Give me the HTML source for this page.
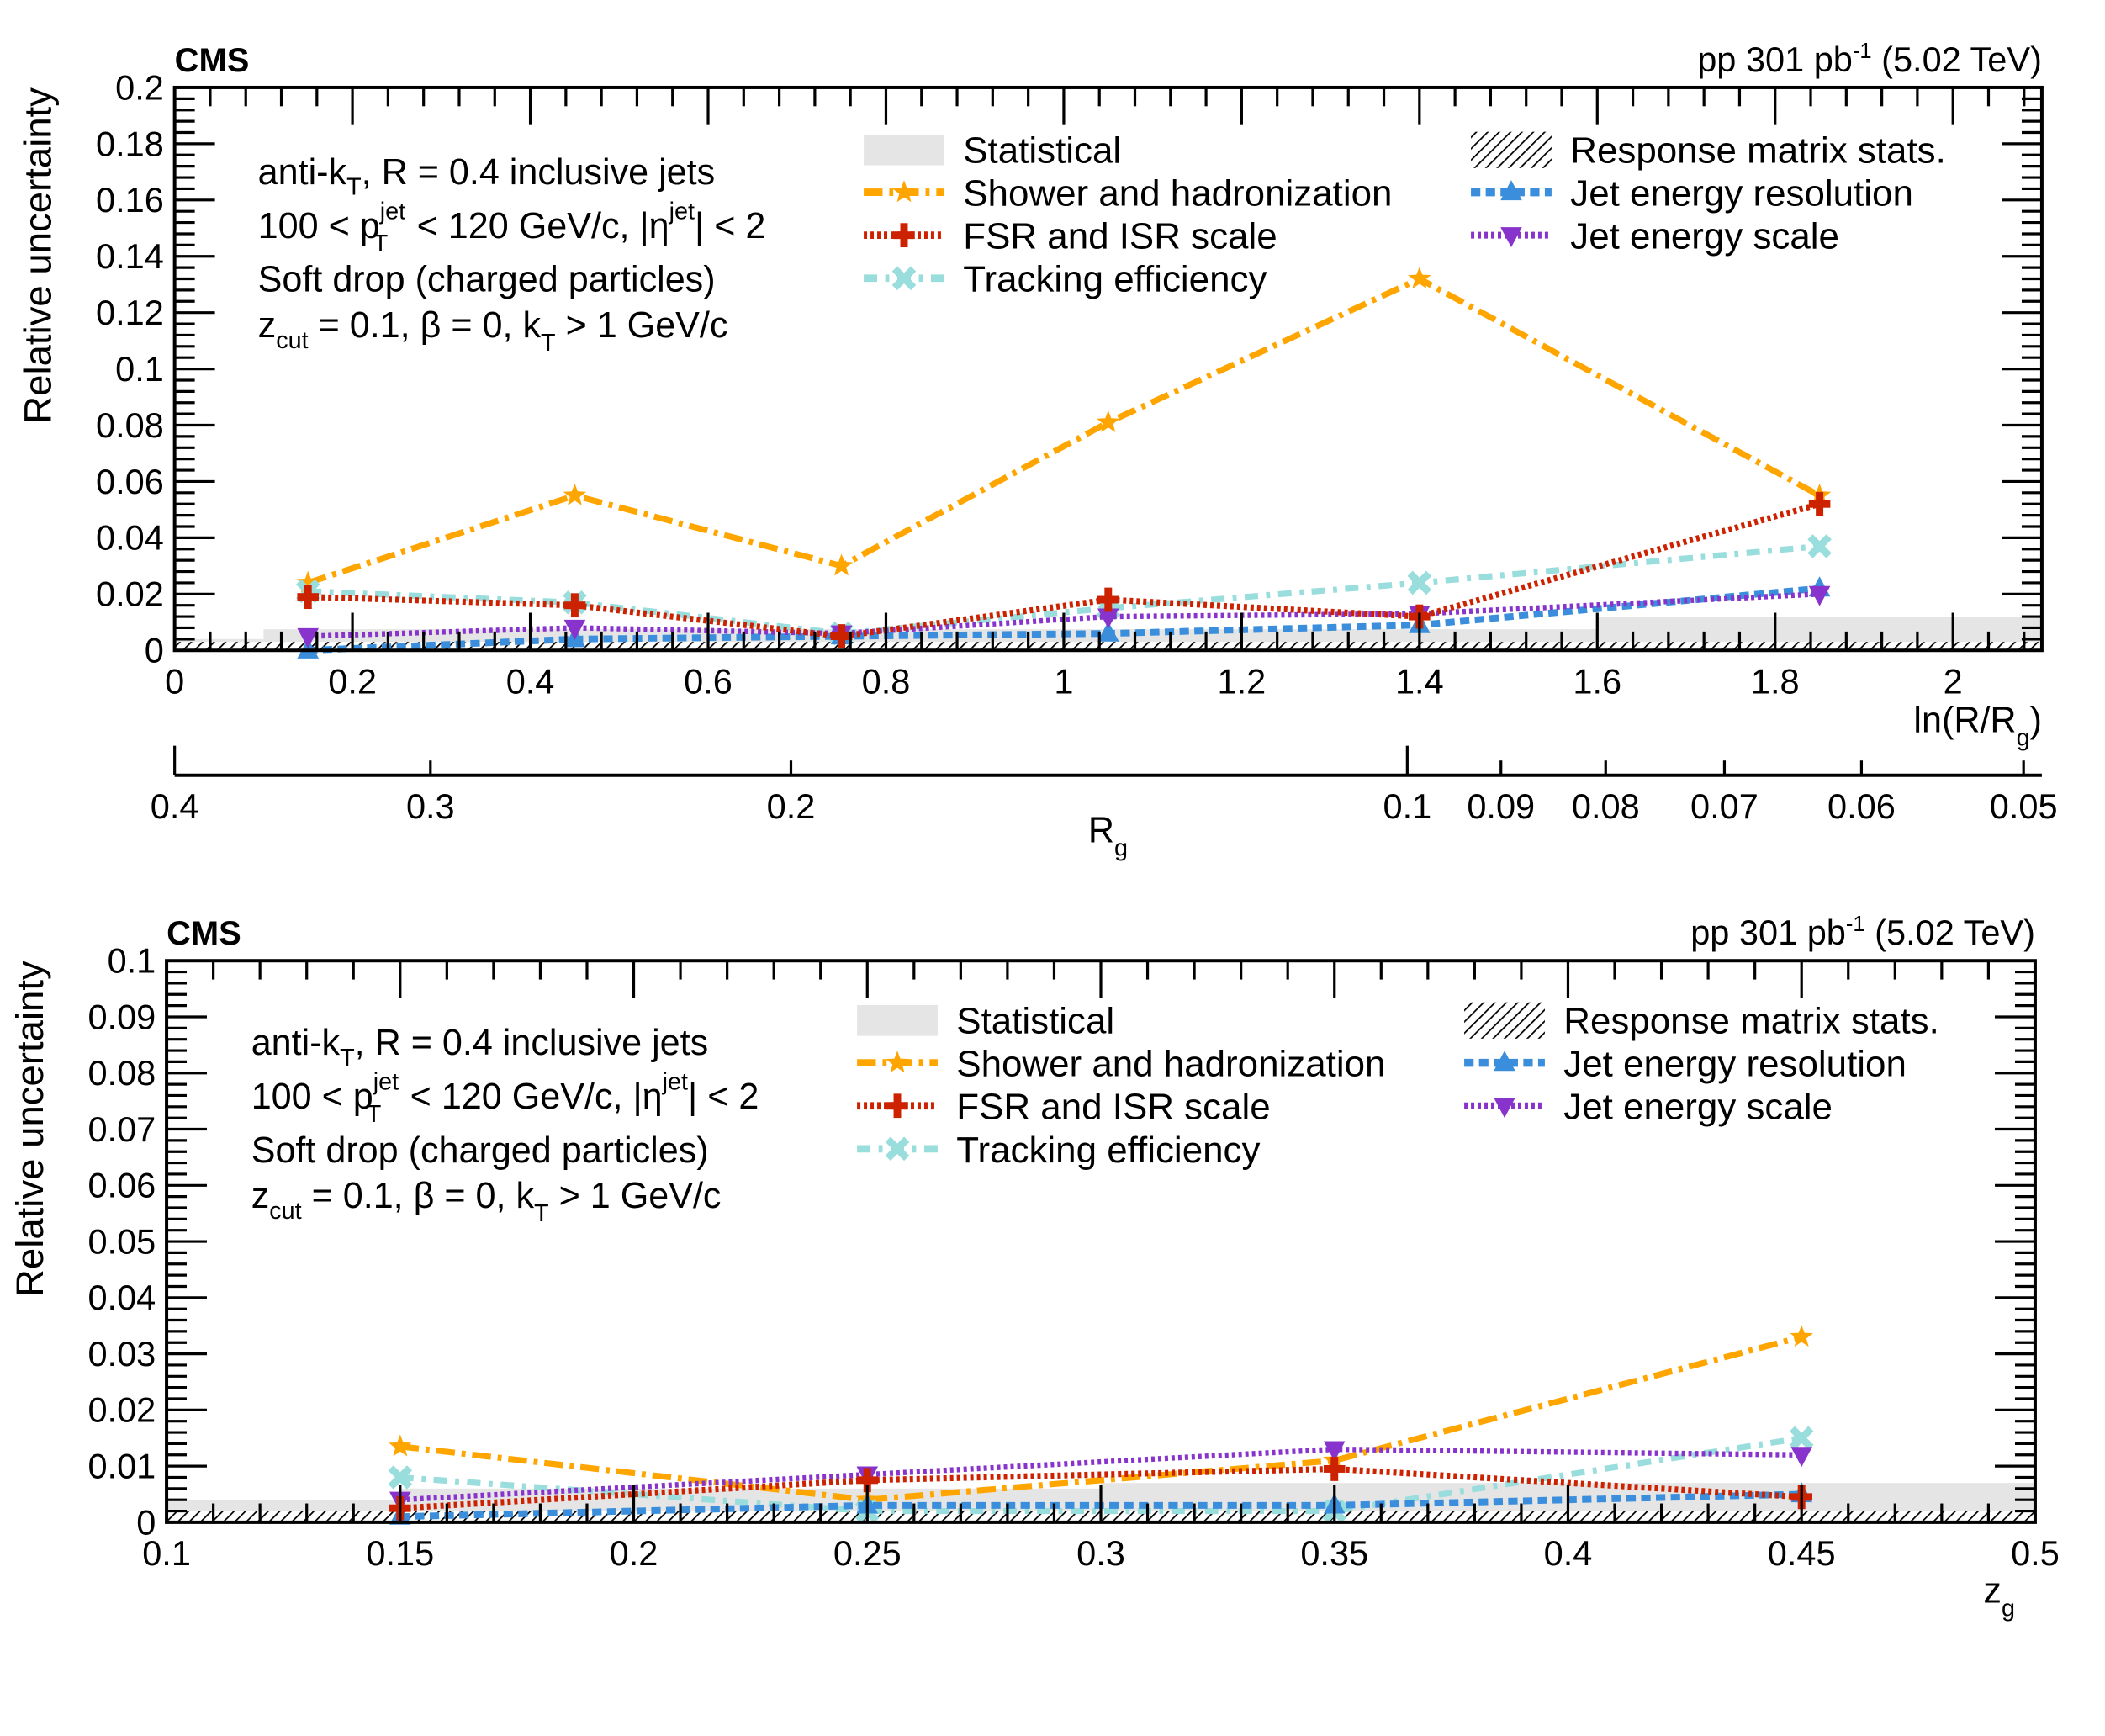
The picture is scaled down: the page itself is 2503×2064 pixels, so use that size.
<!DOCTYPE html>
<html><head><meta charset="utf-8"><style>
html,body{margin:0;padding:0;background:#fff}
svg{display:block}
text{font-family:"Liberation Sans",sans-serif;fill:#000}
</style></head><body>
<svg id="c" width="2503" height="2064" viewBox="0 0 1567 1292" xmlns="http://www.w3.org/2000/svg">
<defs>
<pattern id="hatch" patternUnits="userSpaceOnUse" width="6" height="6" patternTransform="rotate(45)">
<rect width="6" height="6" fill="#fff"/><line x1="0" y1="0" x2="0" y2="6" stroke="#000" stroke-width="2.2"/></pattern>
</defs>
</svg>
<script>
// ---------- data: top panel (ln(R/Rg)) ----------
const topX = [0.15, 0.45, 0.75, 1.05, 1.4, 1.85];
const topShower = [0.024, 0.055, 0.030, 0.081, 0.132, 0.055];
const topFSR = [0.019, 0.016, 0.005, 0.018, 0.012, 0.052];
const topTrack = [0.021, 0.017, 0.006, 0.015, 0.024, 0.037];
const topJER = [0.000, 0.004, 0.005, 0.006, 0.009, 0.022];
const topJES = [0.005, 0.008, 0.006, 0.012, 0.013, 0.020];
const topStatEdges = [0, 0.1, 1.6, 2.1];
const topStatVals = [0.004, 0.0075, 0.012];
const topRespVal = 0.003;
const topYTicks = [0, 0.02, 0.04, 0.06, 0.08, 0.1, 0.12, 0.14, 0.16, 0.18, 0.2];
const topXTicks = [0, 0.2, 0.4, 0.6, 0.8, 1, 1.2, 1.4, 1.6, 1.8, 2];
const rgTicks = [0.4, 0.3, 0.2, 0.1, 0.09, 0.08, 0.07, 0.06, 0.05];
// ---------- data: bottom panel (z_g) ----------
const botX = [0.15, 0.25, 0.35, 0.45];
const botShower = [0.0135, 0.004, 0.011, 0.033];
const botFSR = [0.0025, 0.0075, 0.0095, 0.0045];
const botTrack = [0.008, 0.002, 0.002, 0.015];
const botJER = [0.001, 0.003, 0.003, 0.005];
const botJES = [0.004, 0.0085, 0.013, 0.012];
const botStatEdges = [0.1, 0.15, 0.3, 0.5];
const botStatVals = [0.004, 0.006, 0.007];
const botRespVal = 0.002;
const botYTicks = [0, 0.01, 0.02, 0.03, 0.04, 0.05, 0.06, 0.07, 0.08, 0.09, 0.1];
const botXTicks = [0.1, 0.15, 0.2, 0.25, 0.3, 0.35, 0.4, 0.45, 0.5];

const NS = "http://www.w3.org/2000/svg";
const svgRoot = document.getElementById('c');
function mk(tag, attrs, parent, txt) {
  const e = document.createElementNS(NS, tag);
  for (const k in attrs) e.setAttribute(k, attrs[k]);
  if (txt !== undefined) e.textContent = txt;
  (parent || svgRoot).appendChild(e);
  return e;
}
const styles = {
  shower: {c:'#FFA500', d:'14 5 3 5', w:4.5, m:'star'},
  fsr: {c:'#CC2200', d:'2.5 2.5', w:4.5, m:'plus'},
  track: {c:'#99DDDD', d:'10 6 3 6', w:4.5, m:'x'},
  jer: {c:'#3A8EDB', d:'7 4', w:5, m:'tri'},
  jes: {c:'#8833CC', d:'2.5 2.5', w:4, m:'tridown'}
};
function marker(g, type, x, y, col) {
  const s = 9;
  if (type === 'star') {
    let p = [];
    for (let i = 0; i < 10; i++) { const r = i % 2 ? s*0.42 : s; const a = -Math.PI/2 + i*Math.PI/5; p.push((x + r*Math.cos(a)).toFixed(1) + ',' + (y + r*Math.sin(a)).toFixed(1)); }
    mk('polygon', {points:p.join(' '), fill:col}, g);
  } else if (type === 'plus') {
    mk('rect', {x:x-8, y:y-2.8, width:16, height:5.6, fill:col}, g);
    mk('rect', {x:x-2.8, y:y-9, width:5.6, height:18, fill:col}, g);
  } else if (type === 'x') {
    mk('path', {d:`M${x-7},${y-7}L${x+7},${y+7}M${x+7},${y-7}L${x-7},${y+7}`, stroke:col, 'stroke-width':5.5}, g);
  } else if (type === 'tri') {
    mk('polygon', {points:`${x},${y-9} ${x+8},${y+6} ${x-8},${y+6}`, fill:col}, g);
  } else {
    mk('polygon', {points:`${x},${y+9} ${x+8},${y-6} ${x-8},${y-6}`, fill:col}, g);
  }
}
function panel(o) {
  const g = mk('g', {});
  
  
  const X = v => o.L + (v - o.x0) / (o.x1 - o.x0) * (o.R - o.L);
  const Y = v => o.B - (v - o.y0) / (o.y1 - o.y0) * (o.B - o.T);
  for (let i = 0; i < o.statVals.length; i++) {
    const r = mk('rect', {x:X(o.statEdges[i]), y:Y(o.statVals[i]), width:X(o.statEdges[i+1]) - X(o.statEdges[i]), height:o.B - Y(o.statVals[i]), fill:'#E5E5E5'}, g);
    
    
  }
  const h = mk('rect', {x:o.L, y:Y(o.resp), width:o.R - o.L, height:o.B - Y(o.resp), fill:'url(#hatch)'}, g);
  
  
  for (const [key, vals] of o.series) {
    const st = styles[key];
    const sg = mk('g', {}, g);
    
    
    mk('polyline', {points:o.xs.map((x, i) => X(x) + ',' + Y(vals[i])).join(' '), fill:'none', stroke:st.c, 'stroke-width':st.w, 'stroke-dasharray':st.d}, sg);
    o.xs.forEach((x, i) => marker(sg, st.m, X(x), Y(vals[i]), st.c));
  }
  mk('rect', {x:o.L, y:o.T, width:o.R - o.L, height:o.B - o.T, fill:'none', stroke:'#000', 'stroke-width':2.5}, g);
  const yt = o.yTicks;
  const ystep = (yt[1] - yt[0]) / 5;
  for (let v = o.y0; v <= o.y1 + 1e-9; v += ystep) {
    const q = (v - o.y0) / (yt[1] - yt[0]);
    const maj = Math.abs(q - Math.round(q)) < 1e-6;
    const len = maj ? 30 : 15;
    mk('line', {x1:o.L, x2:o.L + len, y1:Y(v), y2:Y(v), stroke:'#000', 'stroke-width':2}, g);
    mk('line', {x1:o.R, x2:o.R - len, y1:Y(v), y2:Y(v), stroke:'#000', 'stroke-width':2}, g);
  }
  yt.forEach(v => {
    const t = mk('text', {x:o.L - 8, y:Y(v) + 9, 'text-anchor':'end', 'font-size':26}, g, String(v));
    
    
  });
  const xt = o.xTicks;
  const xstep = (xt[1] - xt[0]) / 5;
  for (let v = o.x0; v <= o.x1 + 1e-9; v += xstep) {
    const q = (v - xt[0]) / (xt[1] - xt[0]);
    const maj = Math.abs(q - Math.round(q)) < 1e-6;
    const len = maj ? 28 : 14;
    mk('line', {x1:X(v), x2:X(v), y1:o.B, y2:o.B - len, stroke:'#000', 'stroke-width':2}, g);
    mk('line', {x1:X(v), x2:X(v), y1:o.T, y2:o.T + len, stroke:'#000', 'stroke-width':2}, g);
  }
  xt.forEach(v => {
    const t = mk('text', {x:X(v), y:o.B + 32, 'text-anchor':'middle', 'font-size':26}, g, String(v));
    
    
  });
  const cms = mk('text', {x:o.L, y:o.T - 12, 'font-size':25, 'font-weight':'bold'}, g, 'CMS');
  
  
  const lum = mk('text', {x:o.R, y:o.T - 12, 'text-anchor':'end', 'font-size':26}, g);
  
  
  lum.innerHTML = 'pp 301 pb<tspan dy="-10" font-size="16">-1</tspan><tspan dy="10"> (5.02 TeV)</tspan>';
  const yl = mk('text', {x:0, y:0, 'text-anchor':'end', 'font-size':28.5, transform:`translate(${o.L - 92},${o.T}) rotate(-90)`}, g, 'Relative uncertainty');
  
  
  const ix = o.infoX, iy = o.infoY;
  const info = mk('g', {}, g);
  
  
  mk('text', {x:ix, y:iy, 'font-size':27}, info).innerHTML = 'anti-k<tspan dy="8" font-size="18">T</tspan><tspan dy="-8">, R = 0.4 inclusive jets</tspan>';
  mk('text', {x:ix, y:iy + 40, 'font-size':27}, info).innerHTML = '100 &lt; p<tspan dy="-14" font-size="18">jet</tspan><tspan dx="-24" dy="24" font-size="18">T</tspan><tspan dx="14" dy="-10"> &lt; 120 GeV/c, |η</tspan><tspan dy="-14" font-size="18">jet</tspan><tspan dy="14">| &lt; 2</tspan>';
  mk('text', {x:ix, y:iy + 80, 'font-size':27}, info, 'Soft drop (charged particles)');
  mk('text', {x:ix, y:iy + 114, 'font-size':27}, info).innerHTML = 'z<tspan dy="8" font-size="18">cut</tspan><tspan dy="-8"> = 0.1, β = 0, k</tspan><tspan dy="10" font-size="18">T</tspan><tspan dy="-10"> &gt; 1 GeV/c</tspan>';
  const lg = mk('g', {}, g);
  
  
  const lx = o.legX, ly = o.legY;
  const ent = [
    [lx, ly, 'stat', 'Statistical'], [lx, ly + 32, 'shower', 'Shower and hadronization'],
    [lx, ly + 64, 'fsr', 'FSR and ISR scale'], [lx, ly + 96, 'track', 'Tracking efficiency'],
    [lx + 452, ly, 'resp', 'Response matrix stats.'], [lx + 452, ly + 32, 'jer', 'Jet energy resolution'],
    [lx + 452, ly + 64, 'jes', 'Jet energy scale']];
  ent.forEach(([x, y, k, t]) => {
    const e = mk('g', {}, lg);
    
    
    if (k === 'stat') mk('rect', {x:x, y:y - 11, width:60, height:23, fill:'#E5E5E5'}, e);
    else if (k === 'resp') mk('rect', {x:x, y:y - 13, width:60, height:27, fill:'url(#hatch)'}, e);
    else {
      const st = styles[k];
      mk('line', {x1:x, x2:x + 60, y1:y, y2:y, stroke:st.c, 'stroke-width':st.w + 1, 'stroke-dasharray':st.d}, e);
      marker(e, st.m, x + 30, y, st.c);
    }
    mk('text', {x:x + 74, y:y + 10, 'font-size':27.5}, e, t);
  });
  return {X, Y, g};
}
const topPanel = panel({name:'top-panel', L:130, R:1520, T:65, B:484, x0:0, x1:2.1, y0:0, y1:0.2,
  xs:topX, series:[['shower', topShower], ['track', topTrack], ['jer', topJER], ['jes', topJES], ['fsr', topFSR]],
  statEdges:topStatEdges, statVals:topStatVals, resp:topRespVal, yTicks:topYTicks, xTicks:topXTicks,
  infoX:192, infoY:137, legX:643, legY:111});
const xt1 = mk('text', {x:1520, y:545, 'text-anchor':'end', 'font-size':27}, topPanel.g);


xt1.innerHTML = 'ln(R/R<tspan dy="10" font-size="18">g</tspan><tspan dy="-10">)</tspan>';
const rg = mk('g', {});


mk('line', {x1:130, x2:1520, y1:577, y2:577, stroke:'#000', 'stroke-width':2.5}, rg);
rgTicks.forEach(v => {
  const x = topPanel.X(Math.log(0.4 / v));
  const maj = (v === 0.4 || v === 0.1);
  mk('line', {x1:x, x2:x, y1:577, y2:577 - (maj ? 22 : 11), stroke:'#000', 'stroke-width':2}, rg);
  const t = mk('text', {x:x, y:609, 'text-anchor':'middle', 'font-size':26}, rg, String(v));
  
  
});
const rgt = mk('text', {x:810, y:627, 'font-size':27}, rg);


rgt.innerHTML = 'R<tspan dy="10" font-size="18">g</tspan>';

const botPanel = panel({name:'bottom-panel', L:124, R:1515, T:715, B:1133, x0:0.1, x1:0.5, y0:0, y1:0.1,
  xs:botX, series:[['shower', botShower], ['track', botTrack], ['jer', botJER], ['jes', botJES], ['fsr', botFSR]],
  statEdges:botStatEdges, statVals:botStatVals, resp:botRespVal, yTicks:botYTicks, xTicks:botXTicks,
  infoX:187, infoY:785, legX:638, legY:759});
const xt2 = mk('text', {x:1500, y:1193, 'text-anchor':'end', 'font-size':27}, botPanel.g);


xt2.innerHTML = 'z<tspan dy="10" font-size="18">g</tspan>';
</script>
</body></html>
